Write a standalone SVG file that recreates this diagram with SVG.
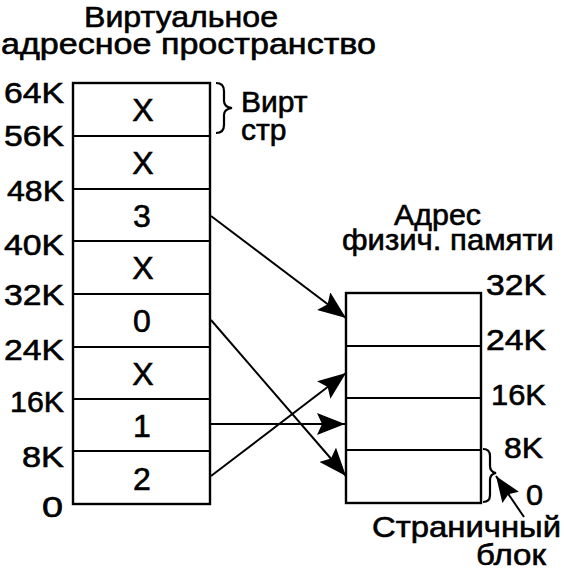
<svg xmlns="http://www.w3.org/2000/svg" width="564" height="574" viewBox="0 0 564 574">
<defs>
<style>
text{font-family:"Liberation Sans",Arial,sans-serif;font-size:30px;fill:#000;stroke:#000;stroke-width:0.6}
.v{text-anchor:middle;font-size:32px}
.box{fill:#fff;stroke:#000;stroke-width:2.4}
.ln{stroke:#000;stroke-width:2.2;fill:none}
.con{stroke:#000;stroke-width:2;fill:none}
</style>
<marker id="ah" markerUnits="userSpaceOnUse" markerWidth="30" markerHeight="22" refX="28" refY="11" orient="auto" viewBox="0 0 30 22">
<path d="M0,0 L28,11 L0,22 L5,11 z" fill="#000"/>
</marker>
<marker id="ahs" markerUnits="userSpaceOnUse" markerWidth="28" markerHeight="20" refX="26" refY="10" orient="auto" viewBox="0 0 28 20">
<path d="M0,0 L26,10 L0,20 L4,10 z" fill="#000"/>
</marker>
</defs>
<rect width="564" height="574" fill="#fff"/>
<g id="title-virtual">
<text x="84" y="27" textLength="194" lengthAdjust="spacingAndGlyphs">Виртуальное</text>
<text x="1" y="54" textLength="375" lengthAdjust="spacingAndGlyphs">адресное пространство</text>
</g>
<g id="virtual-space">
<rect class="box" x="73" y="83" width="137" height="421"/>
<line class="ln" x1="73" y1="136" x2="210" y2="136"/>
<line class="ln" x1="73" y1="189" x2="210" y2="189"/>
<line class="ln" x1="73" y1="241" x2="210" y2="241"/>
<line class="ln" x1="73" y1="294" x2="210" y2="294"/>
<line class="ln" x1="73" y1="347" x2="210" y2="347"/>
<line class="ln" x1="73" y1="399" x2="210" y2="399"/>
<line class="ln" x1="73" y1="451" x2="210" y2="451"/>
<text class="v" x="143" y="121">X</text>
<text class="v" x="143" y="174">X</text>
<text class="v" x="142" y="227">3</text>
<text class="v" x="143" y="279">X</text>
<text class="v" x="142" y="332">0</text>
<text class="v" x="143" y="385">X</text>
<text class="v" x="142" y="437">1</text>
<text class="v" x="142" y="490">2</text>
</g>
<g id="virtual-labels">
<text x="4" y="103" textLength="60" lengthAdjust="spacingAndGlyphs">64K</text>
<text x="4" y="146" textLength="60" lengthAdjust="spacingAndGlyphs">56K</text>
<text x="7" y="201" textLength="57" lengthAdjust="spacingAndGlyphs">48K</text>
<text x="4" y="255" textLength="60" lengthAdjust="spacingAndGlyphs">40K</text>
<text x="4" y="305" textLength="60" lengthAdjust="spacingAndGlyphs">32K</text>
<text x="4" y="360" textLength="60" lengthAdjust="spacingAndGlyphs">24K</text>
<text x="10" y="412" textLength="54" lengthAdjust="spacingAndGlyphs">16K</text>
<text x="22" y="467" textLength="42" lengthAdjust="spacingAndGlyphs">8K</text>
<text x="42" y="517" textLength="21" lengthAdjust="spacingAndGlyphs">0</text>
</g>
<g id="virtual-page-note">
<path class="ln" d="M216,83 Q224,83 224,91 L224,101 Q224,107 232,108 Q224,109 224,115 L224,125 Q224,133 216,133"/>
<text x="241" y="112">Вирт</text>
<text x="241" y="140">стр</text>
</g>
<g id="title-physical">
<text x="394" y="225" textLength="87" lengthAdjust="spacingAndGlyphs">Адрес</text>
<text x="342" y="250" textLength="212" lengthAdjust="spacingAndGlyphs">физич. памяти</text>
</g>
<g id="physical-memory">
<rect class="box" x="346" y="293" width="135" height="210"/>
<line class="ln" x1="346" y1="346" x2="481" y2="346"/>
<line class="ln" x1="346" y1="398" x2="481" y2="398"/>
<line class="ln" x1="346" y1="450" x2="481" y2="450"/>
</g>
<g id="physical-labels">
<text x="486" y="295" textLength="60" lengthAdjust="spacingAndGlyphs">32K</text>
<text x="486" y="350" textLength="60" lengthAdjust="spacingAndGlyphs">24K</text>
<text x="491" y="405" textLength="55" lengthAdjust="spacingAndGlyphs">16K</text>
<text x="504" y="458" textLength="39" lengthAdjust="spacingAndGlyphs">8K</text>
<text x="526" y="505" textLength="17" lengthAdjust="spacingAndGlyphs">0</text>
</g>
<g id="page-frame-note">
<path class="ln" d="M483,449 Q490,449 490,456 L490,466 Q490,472 496,473 Q490,474 490,480 L490,495 Q490,502 483,502"/>
<line class="con" x1="524" y1="517" x2="496" y2="476" marker-end="url(#ahs)"/>
<text x="372" y="537" textLength="189" lengthAdjust="spacingAndGlyphs">Страничный</text>
<text x="476" y="565" textLength="70" lengthAdjust="spacingAndGlyphs">блок</text>
</g>
<g id="connectors">
<line class="con" x1="211" y1="216" x2="346" y2="318" marker-end="url(#ah)"/>
<line class="con" x1="211" y1="320" x2="346" y2="476" marker-end="url(#ah)"/>
<line class="con" x1="211" y1="424" x2="345" y2="424" marker-end="url(#ah)"/>
<line class="con" x1="211" y1="476" x2="346" y2="373" marker-end="url(#ah)"/>
</g>
</svg>
